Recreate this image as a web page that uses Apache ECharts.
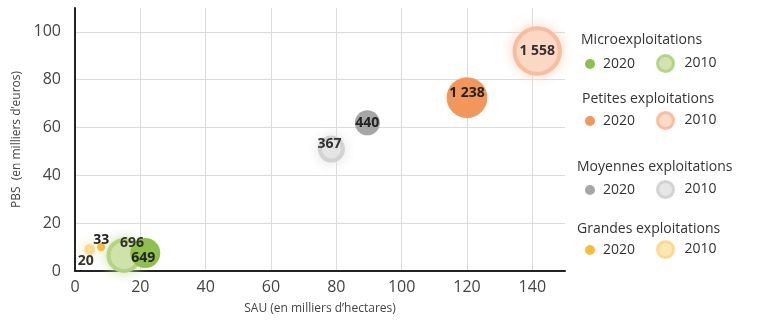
<!DOCTYPE html>
<html>
<head>
<meta charset="utf-8">
<script src="https://cdn.jsdelivr.net/npm/echarts@6/dist/echarts.min.js"></script>
<style>
  html, body { margin: 0; padding: 0; background: #fff; }
  #chart { width: 762px; height: 320px; }
</style>
</head>
<body>
<div id="chart"></div>
<script>
// catégories d'exploitations
const categories = ['Microexploitations', 'Petites exploitations', 'Moyennes exploitations', 'Grandes exploitations'];
const years = ['2020', '2010'];

// SAU (milliers d'ha) et PBS (milliers d'euros) par exploitation
const sau2020 = [21.5, 120, 89.5, 8];
const pbs2020 = [7.5, 72.5, 62, 10];
const sau2010 = [15, 141.5, 78.5, 4.5];
const pbs2010 = [6.5, 92, 51, 9];

// nombre d'exploitations (taille des bulles + étiquettes)
const nb2020 = [649, 1238, 440, 33];
const nb2010 = [696, 1558, 367, 20];

const xTicks = [0, 20, 40, 60, 80, 100, 120, 140];
const yTicks = [0, 20, 40, 60, 80, 100];

const FONT = '"Open Sans", "Noto Sans", sans-serif';

const colors2020 = ['#8fbf4d', '#f2965c', '#a6a6a6', '#f6bd3c'];
const fill2010 = ['#cde2a8', '#fbd8c3', '#e4e4e4', '#fce5ae'];
const ring2010 = ['#b0d180', '#f6bb9a', '#d0d0d0', '#f8d98a'];

// décalages des étiquettes [x, y]
const labelOffset2020 = [[-2, 5], [0, -5], [0, 0], [0, -7]];
const labelOffset2010 = [[8, -12], [0, 0], [-2, -5], [-4, 12]];

function bubbleSize(val) {
    return 1.1 * Math.sqrt(val[2]) + 2;
}

function fmtNb(n) {
    return String(n).replace(/\B(?=(\d{3})+(?!\d))/g, ' ');
}

let series = [];
// 2010 en dessous, 2020 au-dessus (même z : les étiquettes restent devant)
categories.forEach((cat, i) => {
    series.push({
        name: cat + ' 2010',
        type: 'scatter',
        z: 2,
        symbol: 'circle',
        symbolSize: bubbleSize,
        data: [[sau2010[i], pbs2010[i], nb2010[i]]],
        itemStyle: {
            color: fill2010[i],
            borderColor: ring2010[i],
            borderWidth: 4,
            shadowBlur: 12,
            shadowColor: fill2010[i],
            opacity: 0.92,
        },
        label: {
            show: true,
            position: 'inside',
            offset: labelOffset2010[i],
            formatter: (p) => fmtNb(p.value[2]),
            color: '#222',
            fontSize: 14,
            fontWeight: 'bold',
            fontFamily: FONT,
        },
    });
});
categories.forEach((cat, i) => {
    series.push({
        name: cat + ' 2020',
        type: 'scatter',
        z: 2,
        symbol: 'circle',
        symbolSize: bubbleSize,
        data: [[sau2020[i], pbs2020[i], nb2020[i]]],
        itemStyle: {
            color: colors2020[i],
            opacity: 1,
        },
        label: {
            show: true,
            position: 'inside',
            offset: labelOffset2020[i],
            formatter: (p) => fmtNb(p.value[2]),
            color: '#222',
            fontSize: 14,
            fontWeight: 'bold',
            fontFamily: FONT,
        },
    });
});

// légende : un titre par catégorie, puis 2020 / 2010
const legendTitleTop = [33, 92, 160, 222];
const legendTitleLeft = [581, 582, 577, 577];
const legendRowTop = [62, 119, 188, 248];

let titles = [];
let legends = [];
categories.forEach((cat, i) => {
    titles.push({
        text: cat,
        left: legendTitleLeft[i],
        top: legendTitleTop[i],
        padding: 0,
        textStyle: { fontFamily: FONT, fontSize: 14, fontWeight: 'normal', color: '#333' },
    });
    legends.push({
        left: 585,
        top: legendRowTop[i] - 5,
        padding: 0,
        itemWidth: 10,
        itemHeight: 10,
        icon: 'circle',
        selectedMode: false,
        data: [cat + ' 2020'],
        formatter: (name) => name.slice(-4),
        textStyle: { fontFamily: FONT, fontSize: 14, color: '#333', padding: [0, 0, 0, 3] },
    });
    legends.push({
        left: 656,
        top: legendRowTop[i] - 8,
        padding: 0,
        itemWidth: 16,
        itemHeight: 16,
        icon: 'circle',
        selectedMode: false,
        data: [cat + ' 2010'],
        itemStyle: { borderWidth: 3 },
        formatter: (name) => name.slice(-4),
        textStyle: { fontFamily: FONT, fontSize: 14, color: '#333', padding: [0, 0, 0, 6] },
    });
});

const chart = echarts.init(document.getElementById('chart'));
chart.setOption({
    animation: false,
    backgroundColor: '#fff',
    title: titles,
    legend: legends,
    grid: { left: 75, right: 197, top: 8, bottom: 48, containLabel: false },
    xAxis: {
        type: 'value',
        min: xTicks[0],
        max: 150,
        interval: 20,
        name: "SAU (en milliers d\u2019hectares)",
        nameLocation: 'middle',
        nameGap: 32,
        nameTextStyle: { fontFamily: FONT, fontSize: 12, color: '#444' },
        axisLine: { show: true, lineStyle: { color: '#222', width: 2 } },
        axisTick: { show: false },
        axisLabel: {
            fontFamily: FONT, fontSize: 16, color: '#444', margin: 8,
            showMaxLabel: false,
            formatter: (v) => (xTicks.indexOf(v) >= 0 ? String(v) : ''),
        },
        splitLine: { show: true, showMaxLine: false, lineStyle: { color: '#dcdcdc', width: 1 } },
    },
    yAxis: {
        type: 'value',
        min: yTicks[0],
        max: 110,
        interval: 20,
        name: "PBS  (en milliers d\u2019euros)",
        nameLocation: 'middle',
        nameGap: 50,
        nameTextStyle: { fontFamily: FONT, fontSize: 12, color: '#444' },
        axisLine: { show: true, lineStyle: { color: '#222', width: 2 } },
        axisTick: { show: false },
        axisLabel: {
            fontFamily: FONT, fontSize: 16, color: '#444', margin: 14,
            showMaxLabel: false,
            formatter: (v) => (yTicks.indexOf(v) >= 0 ? String(v) : ''),
        },
        splitLine: { show: true, showMaxLine: false, lineStyle: { color: '#dcdcdc', width: 1 } },
    },
    series: series,
});
</script>
</body>
</html>
